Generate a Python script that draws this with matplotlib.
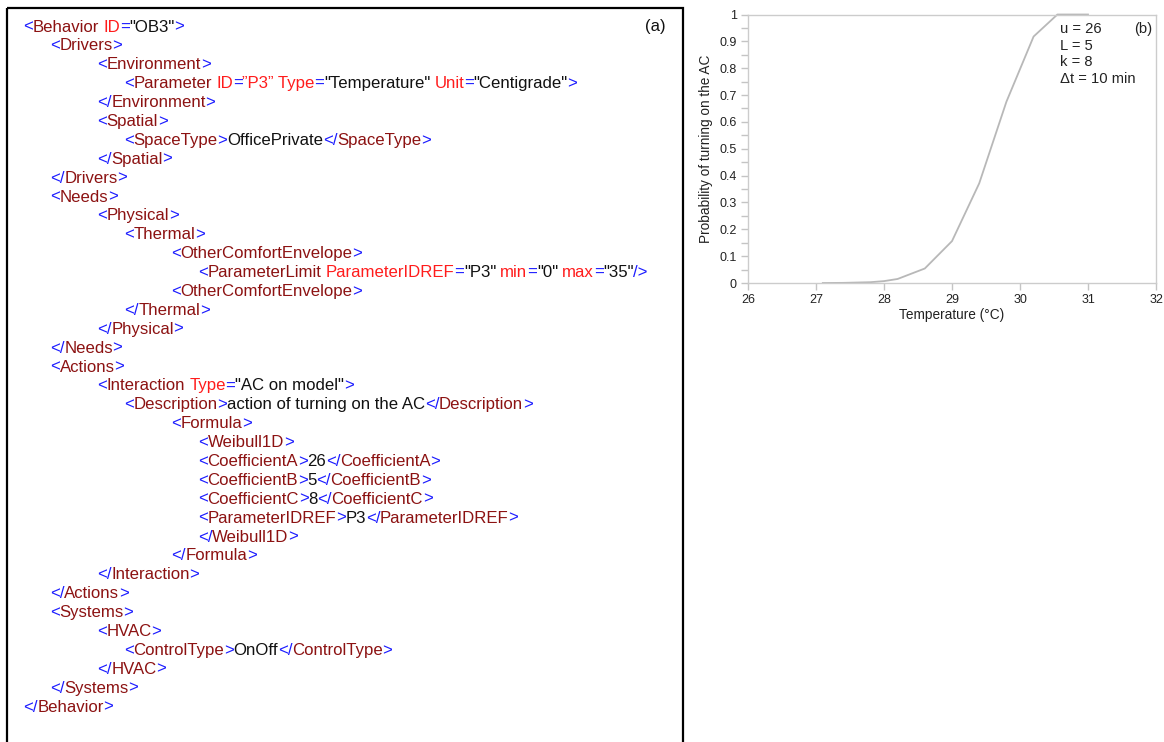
import re
import matplotlib
matplotlib.use('Agg')
import matplotlib.pyplot as plt
from matplotlib.patches import Rectangle
from matplotlib.ticker import MultipleLocator, FormatStrFormatter
from matplotlib.font_manager import FontProperties

plt.rcParams['font.family'] = ['Liberation Sans', 'DejaVu Sans']

# --- data: (b) probability curve ---
temperature = [27.1, 27.4, 27.8, 28.0, 28.2, 28.6, 29.0, 29.4, 29.8, 30.2, 30.55, 31.0]
probability = [0.0, 0.0005, 0.003, 0.007, 0.015, 0.054, 0.156, 0.371, 0.675, 0.918, 1.0, 1.0]
param_text = ['u = 26', 'L = 5', 'k = 8', '\u0394t = 10 min']

# --- data: (a) xml listing ---
xml_lines = [
    '<Behavior ID="OB3">',
    '<Drivers>',
    '<Environment>',
    '<Parameter ID=\u201dP3\u201d Type="Temperature" Unit="Centigrade">',
    '</Environment>',
    '<Spatial>',
    '<SpaceType>OfficePrivate</SpaceType>',
    '</Spatial>',
    '</Drivers>',
    '<Needs>',
    '<Physical>',
    '<Thermal>',
    '<OtherComfortEnvelope>',
    '<ParameterLimit ParameterIDREF="P3" min="0" max="35"/>',
    '<OtherComfortEnvelope>',
    '</Thermal>',
    '</Physical>',
    '</Needs>',
    '<Actions>',
    '<Interaction Type="AC on model">',
    '<Description>action of turning on the AC</Description>',
    '<Formula>',
    '<Weibull1D>',
    '<CoefficientA>26</CoefficientA>',
    '<CoefficientB>5</CoefficientB>',
    '<CoefficientC>8</CoefficientC>',
    '<ParameterIDREF>P3</ParameterIDREF>',
    '</Weibull1D>',
    '</Formula>',
    '</Interaction>',
    '</Actions>',
    '<Systems>',
    '<HVAC>',
    '<ControlType>OnOff</ControlType>',
    '</HVAC>',
    '</Systems>',
    '</Behavior>',
]
xml_levels = [0, 1, 2, 3, 2, 2, 3, 2, 1, 1, 2, 3, 4, 5, 4, 3, 2, 1, 1, 2,
              3, 4, 5, 5, 5, 5, 5, 5, 4, 2, 1, 1, 2, 3, 2, 1, 0]

BLUE = '#1c1cff'
TAG = '#8c1212'
ATTR = '#ff1c1c'
TXT = '#111111'

TOKEN_RE = re.compile(r'</|/>|<|>|=|"[^"]*"|\u201d[^\u201d]*\u201d|\s+|[^<>=/"\u201d\s]+|/')


def color_segments(line):
    """split one xml line into (text, color, spaces_before) runs"""
    segs = []
    in_tag = False
    want_name = False
    pending = 0
    for tok in TOKEN_RE.findall(line):
        if tok.isspace():
            pending += len(tok)
            continue
        if tok in ('<', '</'):
            col = BLUE
            in_tag, want_name = True, True
        elif tok in ('>', '/>'):
            col = BLUE
            in_tag = False
        elif tok == '=':
            col = BLUE
        elif tok.startswith('"'):
            col = TXT
        elif tok.startswith('\u201d'):
            col = ATTR
        elif in_tag and want_name:
            col = TAG
            want_name = False
        elif in_tag:
            col = ATTR
        else:
            col = TXT
        if segs and segs[-1][1] == col:
            segs[-1][0] += ' ' * pending + tok
        else:
            segs.append([tok, col, pending])
        pending = 0
    return segs


fig = plt.figure(figsize=(11.64, 7.42), dpi=100)

# full-figure axes in pixel units for panel (a)
ax0 = fig.add_axes([0, 0, 1, 1])
ax0.set_xlim(0, 1164)
ax0.set_ylim(742, 0)
ax0.axis('off')
ax0.add_patch(Rectangle((7, 8), 676, 800, fill=False, edgecolor='black', lw=1.6))
ax0.text(666, 31.5, '(a)', fontsize=12, ha='right', va='baseline', color=TXT)

indent_x = [23, 50, 97, 124, 171, 198]
fs = 12.1
renderer = fig.canvas.get_renderer()
fp = FontProperties(family=['Liberation Sans'], size=fs)
w_aa = renderer.get_text_width_height_descent('aa', fp, ismath=False)[0]
w_a_a = renderer.get_text_width_height_descent('a a', fp, ismath=False)[0]
space_px = w_a_a - w_aa

for i, (line, lvl) in enumerate(zip(xml_lines, xml_levels)):
    y = 31.5 + i * 18.89
    prev = None
    for text, col, gap in color_segments(line):
        if prev is None:
            prev = ax0.text(indent_x[lvl], y, text, color=col, fontsize=fs,
                            ha='left', va='baseline')
        else:
            prev = ax0.annotate(text, xy=(1, y), xycoords=(prev, 'data'),
                                xytext=(gap * space_px - 0.3, 0), textcoords='offset pixels',
                                color=col, fontsize=fs, ha='left', va='baseline')

# --- panel (b) ---
L = 748 / 1164
B = (742 - 283) / 742
W = (1156 - 748) / 1164
H = (283 - 14.5) / 742
ax = fig.add_axes([L, B, W, H])
ax.plot(temperature, probability, color='#b8b8b8', lw=1.3, clip_on=False)
ax.set_xlim(26, 32)
ax.set_ylim(0, 1)
ax.xaxis.set_major_locator(MultipleLocator(1))
ax.yaxis.set_major_locator(MultipleLocator(0.1))
ax.yaxis.set_minor_locator(MultipleLocator(0.05))
ax.yaxis.set_major_formatter(FormatStrFormatter('%g'))
for s in ax.spines.values():
    s.set_color('#cccccc')
    s.set_linewidth(1.0)
ax.tick_params(axis='both', which='both', direction='out', color='#c4c4c4',
               labelsize=9, labelcolor='#222222', width=1.0)
ax.tick_params(axis='both', which='major', length=5, pad=3)
ax.tick_params(axis='y', which='minor', length=5)
ax.set_xlabel('Temperature (\u00b0C)', fontsize=9.8, labelpad=1, color='#222222')
ax.set_ylabel('Probability of turning on the AC', fontsize=9.8, labelpad=5, color='#222222')
for j, t in enumerate(param_text):
    ax.text(0.764, 0.972 - j * 0.062, t, transform=ax.transAxes, fontsize=10.6,
            ha='left', va='top', color='#222222')
ax.text(0.99, 0.972, '(b)', transform=ax.transAxes, fontsize=10.6,
        ha='right', va='top', color='#222222')

fig.savefig('out.png', dpi=100)
